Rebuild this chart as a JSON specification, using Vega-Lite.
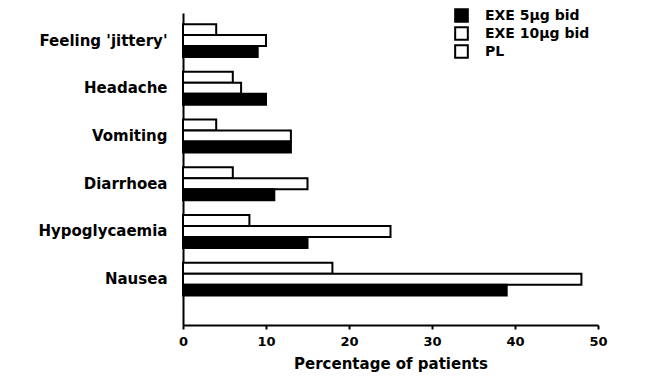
{
  "$schema": "https://vega.github.io/schema/vega-lite/v6.json",
  "width": 415,
  "height": 312,
  "autosize": {"type": "none"},
  "padding": {"left": 183, "top": 13, "right": 49, "bottom": 52},
  "background": "white",
  "config": {
    "view": {"stroke": null},
    "font": "DejaVu Sans"
  },
  "data": {
    "values": [
      {"symptom": "Feeling 'jittery'", "group": "PL", "pct": 4},
      {"symptom": "Feeling 'jittery'", "group": "EXE 10µg bid", "pct": 10},
      {"symptom": "Feeling 'jittery'", "group": "EXE 5µg bid", "pct": 9},
      {"symptom": "Headache", "group": "PL", "pct": 6},
      {"symptom": "Headache", "group": "EXE 10µg bid", "pct": 7},
      {"symptom": "Headache", "group": "EXE 5µg bid", "pct": 10},
      {"symptom": "Vomiting", "group": "PL", "pct": 4},
      {"symptom": "Vomiting", "group": "EXE 10µg bid", "pct": 13},
      {"symptom": "Vomiting", "group": "EXE 5µg bid", "pct": 13},
      {"symptom": "Diarrhoea", "group": "PL", "pct": 6},
      {"symptom": "Diarrhoea", "group": "EXE 10µg bid", "pct": 15},
      {"symptom": "Diarrhoea", "group": "EXE 5µg bid", "pct": 11},
      {"symptom": "Hypoglycaemia", "group": "PL", "pct": 8},
      {"symptom": "Hypoglycaemia", "group": "EXE 10µg bid", "pct": 25},
      {"symptom": "Hypoglycaemia", "group": "EXE 5µg bid", "pct": 15},
      {"symptom": "Nausea", "group": "PL", "pct": 18},
      {"symptom": "Nausea", "group": "EXE 10µg bid", "pct": 48},
      {"symptom": "Nausea", "group": "EXE 5µg bid", "pct": 39}
    ]
  },
  "mark": {"type": "bar", "stroke": "black", "strokeWidth": 2},
  "encoding": {
    "y": {
      "field": "symptom",
      "type": "nominal",
      "sort": ["Feeling 'jittery'", "Headache", "Vomiting", "Diarrhoea", "Hypoglycaemia", "Nausea"],
      "scale": {"paddingInner": 0.31, "paddingOuter": 0.425, "align": 0.275},
      "axis": {
        "title": null,
        "ticks": false,
        "domainColor": "black",
        "domainWidth": 2,
        "labelFont": "DejaVu Sans",
        "labelFontWeight": "bold",
        "labelFontSize": 15,
        "labelColor": "black",
        "labelPadding": 16
      }
    },
    "yOffset": {
      "field": "group",
      "type": "nominal",
      "sort": ["PL", "EXE 10µg bid", "EXE 5µg bid"],
      "scale": {"paddingInner": 0, "paddingOuter": 0}
    },
    "x": {
      "field": "pct",
      "type": "quantitative",
      "scale": {"domain": [0, 50], "nice": false},
      "axis": {
        "title": "Percentage of patients",
        "values": [0, 10, 20, 30, 40, 50],
        "grid": false,
        "labelFlush": false,
        "domainColor": "black",
        "domainWidth": 2,
        "tickColor": "black",
        "tickWidth": 2,
        "tickSize": 4,
        "labelFont": "DejaVu Sans",
        "labelFontWeight": "bold",
        "labelFontSize": 13,
        "labelColor": "black",
        "labelPadding": 6,
        "titleFont": "DejaVu Sans",
        "titleFontWeight": "bold",
        "titleFontSize": 15,
        "titleColor": "black",
        "titlePadding": 8
      }
    },
    "fill": {
      "field": "group",
      "type": "nominal",
      "scale": {
        "domain": ["EXE 5µg bid", "EXE 10µg bid", "PL"],
        "range": ["black", "white", "white"]
      },
      "legend": {
        "title": null,
        "orient": "none",
        "legendX": 271,
        "legendY": -5,
        "padding": 0,
        "symbolType": "square",
        "symbolSize": 160,
        "symbolStrokeColor": "black",
        "symbolStrokeWidth": 2,
        "labelFont": "DejaVu Sans",
        "labelFontWeight": "bold",
        "labelFontSize": 14,
        "labelColor": "black",
        "labelOffset": 16,
        "rowPadding": -4
      }
    }
  }
}
